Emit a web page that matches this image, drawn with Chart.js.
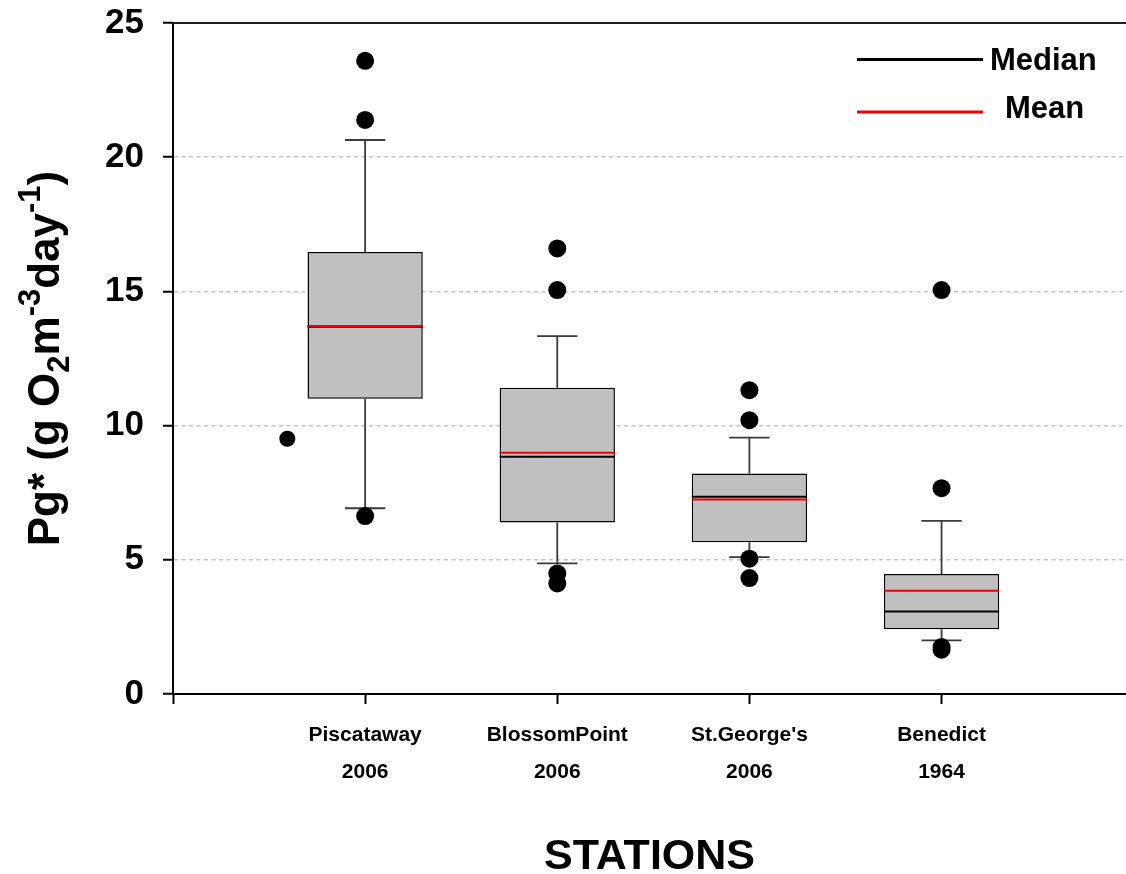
<!DOCTYPE html>
<html>
<head>
<meta charset="utf-8">
<script src="https://cdn.jsdelivr.net/npm/chart.js@4.4.1/dist/chart.umd.min.js"></script>
<style>
  html, body { margin: 0; padding: 0; background: #fff; }
</style>
</head>
<body>
<canvas id="pg" width="1126" height="874"></canvas>
<script>
// Gross production per station, box summaries read as
// lower whisker / Q1 / median / mean / Q3 / upper whisker
const stations = [['Piscataway', '2006'], ['BlossomPoint', '2006'], ["St.George's", '2006'], ['Benedict', '1964']]
const whiskerLow = [6.92, 4.87, 5.10, 2.00]
const quartile1 = [11.00, 6.39, 5.65, 2.41]
const medians = [13.68, 8.84, 7.35, 3.07]
const means = [13.71, 8.99, 7.25, 3.85]
const quartile3 = [16.47, 11.41, 8.22, 4.47]
const whiskerHigh = [20.64, 13.33, 9.55, 6.45]
const outliers = [
	[23.59, 21.39, 6.63],
	[16.60, 15.05, 4.49, 4.12],
	[11.32, 10.20, 5.04, 4.32],
	[15.05, 7.67, 1.75, 1.65]
]
// lone point left of the first box
const strayPoint = { x: 0.595, y: 9.51 }
const yTicks = [0, 5, 10, 15, 20, 25]
const xTicks = [0, 1, 2, 3, 4]

const FONT = "'Liberation Sans', Arial, Helvetica, sans-serif"
const BOX_HALF = 0.30
const CAP_HALF = 0.105
const X_MAX = 4.96

Chart.defaults.font.family = FONT
Chart.defaults.color = '#000'

const pos = stations.map((s, i) => i + 1)

// list of [x1, y1, x2, y2] -> line points with a gap after each piece
function pieces(list) {
	const pts = []
	list.forEach(([x1, y1, x2, y2]) => {
		pts.push({ x: x1, y: y1 }, { x: x2, y: y2 }, { x: x2, y: null })
	})
	return pts
}

const whiskerPts = pieces(pos.flatMap((p, i) => [
	[p, quartile3[i], p, whiskerHigh[i]],
	[p - CAP_HALF, whiskerHigh[i], p + CAP_HALF, whiskerHigh[i]],
	[p, quartile1[i], p, whiskerLow[i]],
	[p - CAP_HALF, whiskerLow[i], p + CAP_HALF, whiskerLow[i]]
]))
const medianPts = pieces(pos.map((p, i) => [p - BOX_HALF, medians[i], p + BOX_HALF, medians[i]]))
const meanPts = pieces(pos.map((p, i) => [p - BOX_HALF, means[i], p + BOX_HALF, means[i]]))
const outlierPts = pos.flatMap((p, i) => outliers[i].map(v => ({ x: p, y: v })))

// top frame line along y = 25
const topFrame = {
	id: 'topFrame',
	afterDraw(chart) {
		const ctx = chart.ctx
		const y = chart.scales.y.getPixelForValue(25)
		ctx.save()
		ctx.strokeStyle = '#222'
		ctx.lineWidth = 2
		ctx.beginPath()
		ctx.moveTo(chart.chartArea.left, y)
		ctx.lineTo(chart.width, y)
		ctx.stroke()
		ctx.restore()
	}
}

// y title with subscript / superscript pieces
const yTitle = {
	id: 'yTitle',
	afterDraw(chart) {
		const ctx = chart.ctx
		const area = chart.chartArea
		const parts = [
			['Pg* (g O', 44, 0],
			['2', 31, 10],
			['m', 44, 0],
			['-3', 31, -19],
			['day', 44, 0],
			['-1', 31, -19],
			[')', 44, 0]
		]
		let total = 0
		parts.forEach(pt => {
			ctx.font = 'bold ' + pt[1] + 'px ' + FONT
			pt.push(ctx.measureText(pt[0]).width)
			total += pt[3]
		})
		ctx.save()
		ctx.translate(59, (area.top + area.bottom) / 2)
		ctx.rotate(-Math.PI / 2)
		ctx.fillStyle = '#000'
		ctx.textBaseline = 'alphabetic'
		let x = -total / 2
		parts.forEach(([text, size, shift, w]) => {
			ctx.font = 'bold ' + size + 'px ' + FONT
			ctx.fillText(text, x, shift)
			x += w
		})
		ctx.restore()
	}
}

const legendBox = {
	id: 'legendBox',
	afterDraw(chart) {
		const ctx = chart.ctx
		const items = [
			{ label: 'Median', color: '#000', y: 59.5, textX: 990, textY: 61 },
			{ label: 'Mean', color: '#f00000', y: 112, textX: 1005, textY: 109 }
		]
		ctx.save()
		ctx.font = 'bold 31px ' + FONT
		ctx.textBaseline = 'middle'
		items.forEach(it => {
			ctx.strokeStyle = it.color
			ctx.lineWidth = 3
			ctx.beginPath()
			ctx.moveTo(857, it.y)
			ctx.lineTo(983, it.y)
			ctx.stroke()
			ctx.fillStyle = '#000'
			ctx.fillText(it.label, it.textX, it.textY)
		})
		ctx.restore()
	}
}

const chart = new Chart('pg', {
	type: 'bar',
	data: {
		datasets: [
			{
				type: 'bar',
				data: pos.map((p, i) => ({ x: p, y: [quartile1[i], quartile3[i]] })),
				backgroundColor: '#c0c0c0',
				borderColor: '#000',
				borderWidth: 1.5,
				borderSkipped: false,
				categoryPercentage: 1,
				barPercentage: BOX_HALF * 2,
				order: 5
			},
			{
				type: 'line',
				data: whiskerPts,
				borderColor: '#3a3a3a',
				borderWidth: 1.8,
				pointRadius: 0,
				spanGaps: false,
				order: 4
			},
			{
				type: 'line',
				data: medianPts,
				borderColor: '#000',
				borderWidth: 2,
				pointRadius: 0,
				spanGaps: false,
				order: 3
			},
			{
				type: 'line',
				data: meanPts,
				borderColor: '#f00000',
				borderWidth: 2,
				pointRadius: 0,
				spanGaps: false,
				order: 2
			},
			{
				type: 'line',
				data: outlierPts,
				showLine: false,
				pointRadius: 9,
				pointBorderWidth: 0,
				pointBackgroundColor: '#000',
				order: 1
			},
			{
				type: 'line',
				data: [strayPoint],
				showLine: false,
				pointRadius: 8,
				pointBorderWidth: 0,
				pointBackgroundColor: '#000',
				order: 1
			}
		]
	},
	options: {
		responsive: false,
		animation: false,
		events: [],
		layout: { autoPadding: false, padding: { top: 23, right: 0, bottom: 0, left: 0 } },
		plugins: {
			legend: { display: false },
			tooltip: { enabled: false }
		},
		scales: {
			x: {
				type: 'linear',
				position: 'bottom',
				min: 0,
				max: X_MAX,
				offset: false,
				afterBuildTicks: s => { s.ticks = xTicks.map(v => ({ value: v })) },
				afterFit: s => { s.height = 180 },
				ticks: {
					autoSkip: false,
					maxRotation: 0,
					padding: 12.5,
					font: { size: 21, weight: 'bold', lineHeight: 1.76 },
					callback: v => (v >= 1 ? stations[v - 1] : '')
				},
				grid: {
					offset: false,
					drawOnChartArea: false,
					tickLength: 10,
					tickWidth: 2,
					tickColor: '#000'
				},
				border: { color: '#000', width: 2 },
				title: {
					display: true,
					text: 'STATIONS',
					font: { size: 43, weight: 'bold', lineHeight: 0.8 },
					padding: { top: 0, bottom: 0 }
				}
			},
			y: {
				min: 0,
				max: 25,
				afterBuildTicks: s => { s.ticks = yTicks.map(v => ({ value: v })) },
				afterFit: s => {
					s.width = 173
					// the layout padding already leaves room for the end labels
					s.paddingTop = 0
					s.paddingBottom = 0
				},
				ticks: {
					padding: 19,
					font: { size: 35, weight: 'bold' }
				},
				grid: {
					color: c => (c.tick && (c.tick.value === 0 || c.tick.value === 25) ? 'rgba(0,0,0,0)' : '#c4c4c4'),
					lineWidth: 1.5,
					tickLength: 10,
					tickWidth: 2,
					tickColor: '#000',
					tickBorderDash: []
				},
				border: { color: '#000', width: 2, dash: [4, 3.5] }
			}
		}
	},
	plugins: [topFrame, yTitle, legendBox]
})
</script>
</body>
</html>
